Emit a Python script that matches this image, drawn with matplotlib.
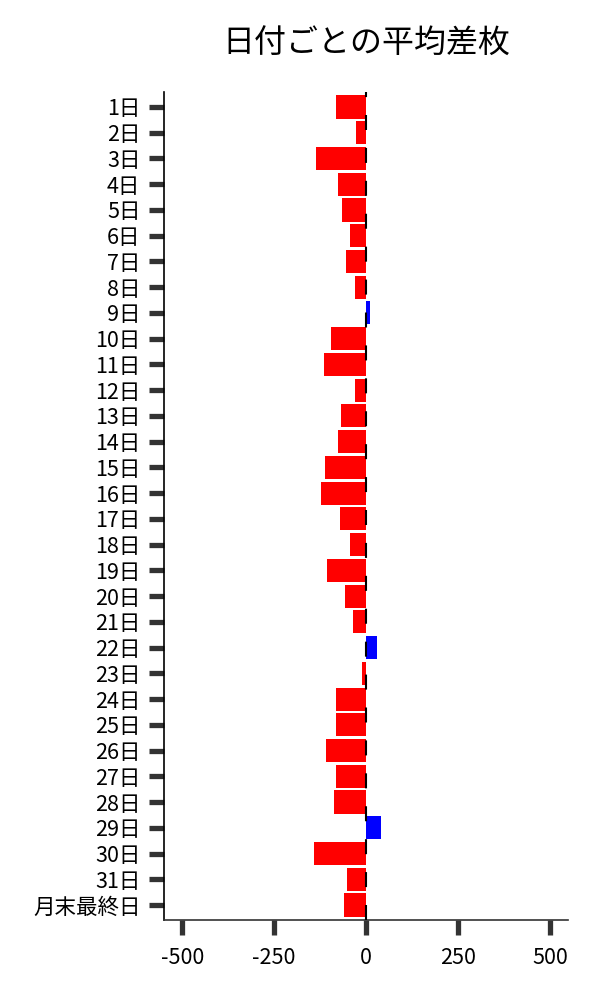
import numpy as np
import matplotlib
matplotlib.use('Agg')
import matplotlib.pyplot as plt

plt.rcParams['font.family'] = ['Noto Sans CJK JP', 'DejaVu Sans']

# 日付ラベルと平均差枚
days = [f'{d}日' for d in range(1, 32)] + ['月末最終日']
avg_diff = [-81, -27, -136, -76, -65, -43, -54, -30, 10, -95,
            -114, -30, -68, -76, -111, -122, -71, -43, -106, -57,
            -35, 29, -11, -81, -81, -108, -81, -87, 40, -141,
            -52, -60]
xticks = [-500, -250, 0, 250, 500]

colors = ['blue' if v > 0 else 'red' for v in avg_diff]

fig = plt.figure(figsize=(6, 10), dpi=100)
ax = fig.add_axes([0.273, 0.08, 0.674, 0.828])

y = np.arange(len(days))
ax.barh(y, avg_diff, height=0.9, color=colors, zorder=2)
ax.axvline(0, color='black', lw=1.5, linestyle=(0, (7.2, 8.6)), zorder=3)

ax.set_yticks(y)
ax.set_yticklabels(days)
ax.set_ylim(len(days) - 1 + 0.58, -0.58)
ax.set_xticks(xticks)
ax.set_xticklabels([str(v) for v in xticks])
ax.set_xlim(-550, 550)

ax.tick_params(axis='y', length=10.8, width=3.8, color='#333333', pad=6, labelsize=15.5)
ax.tick_params(axis='x', length=11, width=3.8, color='#333333', pad=8.5, labelsize=15.5)

ax.spines['top'].set_visible(False)
ax.spines['right'].set_visible(False)
ax.spines['left'].set_linewidth(1.2)
ax.spines['bottom'].set_linewidth(1.2)
ax.spines['bottom'].set_color('#333333')

ax.set_title('日付ごとの平均差枚', fontsize=23, pad=28)

plt.savefig('out.png', dpi=100)
plt.close()
